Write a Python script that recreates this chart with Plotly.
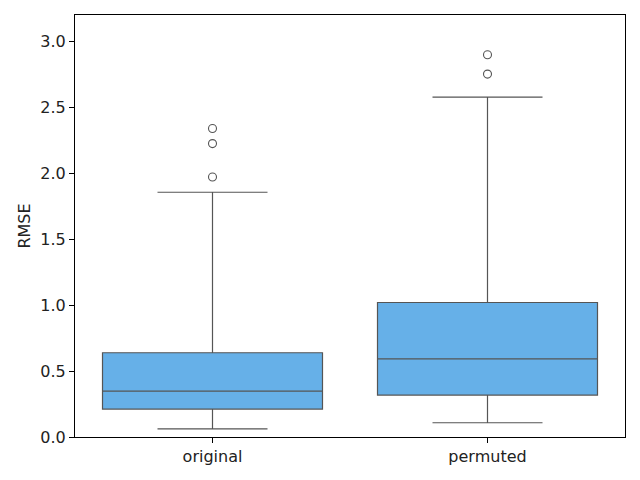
import plotly.graph_objects as go

categories = ["original", "permuted"]
q1_vals = [0.212, 0.318]
median_vals = [0.348, 0.593]
q3_vals = [0.639, 1.020]
lower_whisker = [0.061, 0.108]
upper_whisker = [1.856, 2.578]
outliers_original = [1.972, 2.225, 2.339]
outliers_permuted = [2.752, 2.899]

y_ticks = [0.0, 0.5, 1.0, 1.5, 2.0, 2.5, 3.0]
y_tick_text = ["0.0", "0.5", "1.0", "1.5", "2.0", "2.5", "3.0"]

fill = "#66b0e8"
edge = "#555555"

fig = go.Figure()
fig.add_trace(go.Box(
    x=categories,
    q1=q1_vals, median=median_vals, q3=q3_vals,
    lowerfence=lower_whisker, upperfence=upper_whisker,
    fillcolor=fill,
    line=dict(color=edge, width=1.2),
    whiskerwidth=0.5,
    boxpoints=False,
    showlegend=False,
))

out_x = [categories[0]] * len(outliers_original) + [categories[1]] * len(outliers_permuted)
out_y = outliers_original + outliers_permuted
fig.add_trace(go.Scatter(
    x=out_x, y=out_y, mode="markers",
    marker=dict(symbol="circle-open", size=8, color=edge, line=dict(width=1.1, color=edge)),
    showlegend=False, hoverinfo="skip",
))

font = dict(family="DejaVu Sans", size=16, color="#222222")
fig.update_layout(
    width=632, height=472,
    margin=dict(l=67, r=15, t=7, b=43),
    paper_bgcolor="white", plot_bgcolor="white",
    boxgap=0.2, boxgroupgap=0,
    font=font,
)
fig.update_xaxes(
    type="category", categoryorder="array", categoryarray=categories,
    range=[-0.5, 1.5],
    showline=True, linecolor="black", linewidth=1.1, mirror=True,
    ticks="outside", ticklen=5, tickcolor="black",
    showgrid=False, zeroline=False,
    tickfont=dict(family="DejaVu Sans", size=16, color="#222222"),
)
fig.update_yaxes(
    range=[0, 3.2],
    tickvals=y_ticks, ticktext=y_tick_text,
    showline=True, linecolor="black", linewidth=1.1, mirror=True,
    ticks="outside", ticklen=5, tickcolor="black",
    showgrid=False, zeroline=False,
    title=dict(text="RMSE", font=dict(family="DejaVu Sans", size=16, color="#222222"), standoff=5),
    tickfont=dict(family="DejaVu Sans", size=16, color="#222222"),
)

fig.write_html("out.html")
